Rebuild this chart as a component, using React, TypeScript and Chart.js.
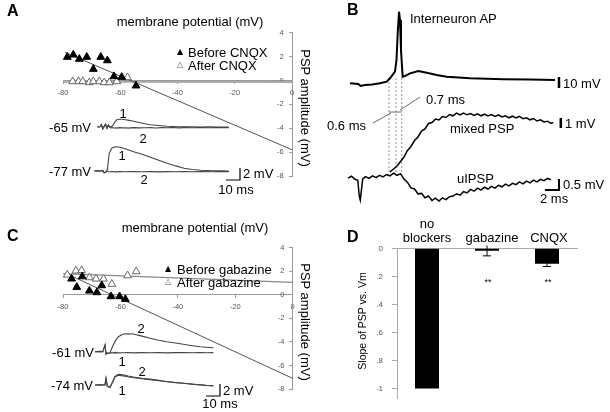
import React, { useEffect, useRef } from "react";
import { Chart, registerables } from "chart.js";

Chart.register(...registerables);

const FONT = "'Liberation Sans', Arial, Helvetica, sans-serif";
Chart.defaults.font.family = FONT;

// ---------------- Panel A data ----------------
const aVmTicks = [-80, -60, -40, -20, 0];
const aPspTicks = [4, 2, 0, -2, -4, -6, -8];
const aBeforeVm = [-78.5, -76.4, -74.3, -71.7, -69.4, -66.8, -64.5, -62.2, -59.5, -54.5];
const aBeforePsp = [1.96, 2.15, 1.79, 1.96, 0.95, 1.96, 1.67, 0.34, 0.28, -0.44];
const aAfterVm = [-76.6, -74.6, -73.1, -70.8, -69.4, -67.3, -65.6, -63.8, -61.2, -57.5];
const aAfterPsp = [-0.08, -0.08, -0.08, -0.17, -0.08, -0.08, -0.17, -0.17, -0.08, 0.25];
const aFitBeforeVm = [-79.3, 0];
const aFitBefore = [2.35, -5.8];
const aFitAfterVm = [-80, 0];
const aFitAfter = [-0.1, -0.13];

// traces (time in ms, deflection in mV from baseline)
const aT65 = [-2, 0, 1, 2, 3, 4, 5, 6, 7, 8, 9, 10, 11, 12, 14, 16, 18, 20, 24, 28, 32, 36, 40, 44, 48, 52, 56, 60, 66, 72, 78, 84, 92];
const a65Trace1 = [0, 0.05, 0.4, -0.3, 0.1, 0.45, -0.2, 0.35, 0.0, 0.1, 0.2, 0.6, 0.95, 1.2, 1.3, 1.28, 1.22, 1.15, 0.95, 0.75, 0.55, 0.38, 0.28, 0.2, 0.12, 0.08, 0.05, 0.05, 0.03, 0.0, 0.02, 0.0, 0.0];
const a65Trace2 = [0, 0.05, 0.4, -0.3, 0.1, 0.45, -0.2, 0.3, -0.1, -0.15, -0.1, -0.2, -0.12, -0.18, -0.1, -0.15, -0.12, -0.18, -0.1, -0.15, -0.12, -0.1, -0.16, -0.1, -0.12, -0.08, -0.14, -0.1, -0.12, -0.08, -0.12, -0.1, -0.1];
const aT77 = [-4, -2, 0, 2, 3, 4, 5, 5.5, 6.6, 8.4, 10.7, 14.3, 18, 24, 30, 36, 42, 48, 54, 60, 66, 72, 80, 86, 92];
const a77Trace1 = [0, 0.05, 0, 0.05, -0.3, -0.2, 0.2, 0.7, 2.95, 3.8, 4.05, 3.95, 3.7, 3.2, 2.8, 2.3, 1.8, 1.3, 0.85, 0.45, 0.25, 0.12, 0.05, 0.02, 0];
const a77Trace2 = [0, 0.05, 0, 0.05, -0.3, -0.2, -0.05, -0.1, -0.12, -0.08, -0.14, -0.1, -0.12, -0.08, -0.12, -0.1, -0.14, -0.1, -0.12, -0.08, -0.12, -0.1, -0.12, -0.08, -0.1];
const aBarT = [90, 100, 100];
const aBarV = [-1.5, -1.5, 0.5];

// ---------------- Panel C data ----------------
const cBeforeVm = [-77, -75.2, -73.3, -70.8, -68.2, -66.5, -63.3, -60.3, -58.3];
const cBeforePsp = [1.36, 0.65, 1.55, 0.34, 0.2, 0.79, -0.14, -0.14, -0.37];
const cAfterVm = [-78.5, -75.5, -73.5, -70.8, -68.5, -65.9, -63, -57.5, -54.5];
const cAfterPsp = [1.7, 2.04, 2.07, 1.47, 1.36, 1.36, 0.91, 1.64, 1.98];
const cFitBeforeVm = [-79.3, 0];
const cFitBefore = [1.85, -7.1];
const cFitAfterVm = [-80, 0];
const cFitAfter = [1.8, 1.05];

const cT61 = [-3.6, 0, 2, 3.6, 4.3, 5, 6, 7.1, 9, 11, 13.1, 16.6, 20, 23.8, 30, 35.7, 42, 47.6, 54, 59.5, 66, 71.4, 76, 81];
const c61Trace2 = [0, 0.05, 0, 1.1, -0.4, -0.2, -0.3, -0.2, 0.9, 1.8, 2.5, 2.95, 3.0, 2.95, 2.6, 2.23, 1.9, 1.67, 1.45, 1.23, 1.0, 0.83, 0.75, 0.67];
const c61Trace1 = [0, 0.05, 0, 1.1, -0.4, -0.2, -0.25, -0.18, -0.2, -0.15, -0.2, -0.17, -0.14, -0.2, -0.15, -0.18, -0.14, -0.2, -0.16, -0.15, -0.18, -0.14, -0.17, -0.15];
const cT74 = [-3.6, 0, 3.5, 4.3, 5.2, 7.1, 9.1, 10.7, 13.1, 16.6, 20, 23.8, 30, 35.7, 42, 47.6, 54, 59.5, 66, 71.4, 76, 81];
const c74Trace2 = [0, 0.02, 0, 1.1, -0.17, -0.4, 0.6, 1.45, 1.8, 1.7, 1.5, 1.32, 1.12, 0.98, 0.78, 0.58, 0.42, 0.3, 0.15, 0.05, -0.05, -0.12];
const c74Trace1 = [0, 0.02, 0, 1.1, -0.17, -0.4, 0.5, 1.35, 1.62, 1.52, 1.38, 1.2, 1.05, 0.9, 0.72, 0.55, 0.4, 0.28, 0.12, 0.02, -0.08, -0.15];
const cBarT = [75.7, 85.7, 85.7];
const cBarV = [-1.83, -1.83, 0.17];

// ---------------- Panel B data ----------------
const bApT = [0.3, 1.47, 1.81, 2.43, 3.43, 4.57, 5.53, 6.0, 6.71, 6.93, 7.1, 7.29, 7.43, 7.57, 7.81, 8.14, 8.86, 10.04, 11.24, 12.67, 14.1, 17.43, 22.19, 26, 29.57];
const bApV = [0.64, 0, -1.8, -0.9, -0.45, 0.64, 2.1, 5.2, 11.2, 21.8, 46.1, 65.7, 58.2, 30.9, 6.6, 7.3, 9.7, 11.8, 10.3, 8.2, 6.6, 5.2, 4.3, 4.0, 3.6];
const bMixT = [6.0, 6.5, 7.0, 7.5, 8.0, 8.5, 9.0, 9.5, 10.0, 10.5, 11.0, 11.5, 12.0, 12.5, 13.0, 13.5, 14.0, 14.5, 15.0, 15.5, 16.0, 16.5, 17.0, 17.5, 18.0, 18.5, 19.0, 19.5, 20.0, 20.5, 21.0, 21.5, 22.0, 22.5, 23.0, 23.5, 24.0, 24.5, 25.0, 25.5, 26.0, 26.5, 27.0, 27.5, 28.0, 28.5, 29.0, 29.3];
const bMixV = [0, 0.3, 0.6, 1.05, 1.5, 2.15, 2.55, 3.15, 3.5, 4.1, 4.3, 4.85, 4.95, 5.3, 5.2, 5.55, 5.45, 5.75, 5.62, 5.88, 5.7, 5.9, 5.72, 5.85, 5.66, 5.82, 5.62, 5.78, 5.6, 5.74, 5.55, 5.72, 5.5, 5.62, 5.42, 5.58, 5.4, 5.56, 5.32, 5.42, 5.22, 5.35, 5.1, 5.22, 5.0, 5.08, 4.85, 4.95];
const bIpT = [0, 0.5, 1.0, 1.4, 1.6, 1.75, 1.9, 2.1, 2.5, 3.0, 3.5, 4.0, 4.5, 5.0, 5.5, 6.0, 6.5, 7.0, 7.5, 8.0, 8.5, 9.0, 9.5, 10.0, 10.5, 11.0, 11.5, 12.0, 12.5, 13.0, 13.5, 14.0, 14.5, 15.0, 15.5, 16.0, 16.5, 17.0, 17.5, 18.0, 18.5, 19.0, 19.5, 20.0, 20.5, 21.0, 21.5, 22.0, 22.5, 23.0, 23.5, 24.0, 24.5, 25.0, 25.5, 26.0, 26.5, 27.0, 27.5, 28.0, 28.5, 29.0];
const bIpV = [-0.01, 0.08, -0.06, -0.1, -0.8, -1.0, -0.6, -0.05, 0.06, -0.02, 0.1, 0.02, 0.12, 0.05, 0.16, 0.1, 0.22, 0.12, 0.2, -0.05, -0.2, -0.45, -0.5, -0.72, -0.7, -0.9, -0.82, -1.02, -0.92, -1.05, -0.9, -0.98, -0.85, -0.82, -0.72, -0.78, -0.62, -0.68, -0.52, -0.6, -0.46, -0.55, -0.42, -0.5, -0.38, -0.46, -0.33, -0.4, -0.28, -0.36, -0.24, -0.3, -0.18, -0.27, -0.14, -0.22, -0.1, -0.18, -0.06, -0.12, -0.02, -0.08];
const bDashT = [5.86, 6.86, 7.67];
const bDashV = [9.4, 0];
const bMeasureT = [5.86, 7.67];
const bMeasureV = [6.0, 6.0];
const b07LeaderT = [10.3, 7.43];
const b07LeaderV = [7.5, 6.2];
const b06LeaderT = [3.57, 6.14];
const b06LeaderV = [4.9, 5.9];
const bApBarT = [30.14, 30.14];
const bApBarV = [6.36, -3.64];
const bMixBarT = [30.4, 30.4];
const bMixBarV = [5.4, 4.4];
const bIpBarT = [28.14, 30.14, 30.14];
const bIpBarV = [-0.545, -0.545, -0.045];

// ---------------- Panel D data ----------------
const dCategories = [["no", "blockers"], "gabazine", "CNQX"];
const dValues = [-1, -0.017, -0.11];
const dErr = [0, 0.037, 0.02];
const dTicks = [0, -0.2, -0.4, -0.6, -0.8, -1];
const dTickLabels = ["0", "-0.2", "-0.4", "-0.6", "-0.8", "-1"];

// ---------------- helpers ----------------
const pts = (xs: number[], ys: number[]) => xs.map((x, i) => ({ x, y: ys[i] }));
const hRange = (a: number, b: number, zero: number, ppu: number) => ({ min: (a - zero) / ppu, max: (b - zero) / ppu });
const vRange = (top: number, bottom: number, zero: number, ppu: number) => ({ min: (zero - bottom) / ppu, max: (zero - top) / ppu });
const hidden = (axis: string, r: { min: number; max: number }) => ({ type: "linear", axis, display: false, min: r.min, max: r.max });

const lineDs = (xs: number[], ys: number[], xAxisID: string, yAxisID: string, color = "#333", width = 1, dash: number[] = []) => ({
  data: pts(xs, ys),
  xAxisID,
  yAxisID,
  showLine: true,
  pointRadius: 0,
  borderColor: color,
  borderWidth: width,
  borderDash: dash,
  fill: false,
  tension: 0,
  clip: false,
});
const markerDs = (xs: number[], ys: number[], fill: string, stroke: string) => ({
  data: pts(xs, ys),
  xAxisID: "x",
  yAxisID: "y",
  showLine: false,
  pointStyle: "triangle",
  pointRadius: 4.5,
  pointBackgroundColor: fill,
  pointBorderColor: stroke,
  pointBorderWidth: 1,
  backgroundColor: fill,
  borderColor: stroke,
  clip: false,
});

const base = (padding: any) => ({
  responsive: false,
  maintainAspectRatio: false,
  animation: false,
  devicePixelRatio: 1,
  events: [],
  layout: { padding },
  plugins: { legend: { display: false }, tooltip: { enabled: false } },
});

const scatterAxes = (yMin: number, yMax: number) => {
  const tick = { font: { size: 7.5 }, color: "#555", maxRotation: 0, autoSkip: false };
  return {
    x: {
      type: "linear",
      position: { y: 0 },
      min: -80,
      max: 0,
      afterBuildTicks: (s: any) => { s.ticks = aVmTicks.map((v) => ({ value: v })); },
      ticks: { ...tick, padding: 5 },
      grid: { display: true, drawOnChartArea: false, tickLength: 3, color: "#999" },
      border: { color: "#999" },
    },
    y: {
      type: "linear",
      position: { x: 0 },
      min: yMin,
      max: yMax,
      afterBuildTicks: (s: any) => { s.ticks = aPspTicks.map((v) => ({ value: v })); },
      // trailing spaces keep the labels off the axis line (labels sit left of the axis)
      ticks: { ...tick, padding: 4, callback: (v: any) => `${v}    ` },
      grid: { display: true, drawOnChartArea: false, tickLength: 3, color: "#999" },
      border: { color: "#999" },
    },
  };
};

function makeA() {
  const W = 310, H = 205;
  const l = 63, r = 292, t = 32.7, b = 176;
  return {
    type: "scatter",
    data: {
      datasets: [
        markerDs(aBeforeVm, aBeforePsp, "#000", "#000"),
        markerDs(aAfterVm, aAfterPsp, "#fff", "#666"),
        lineDs(aFitBeforeVm, aFitBefore, "x", "y", "#555", 1),
        lineDs(aFitAfterVm, aFitAfter, "x", "y", "#aaa", 2),
        lineDs(aT65, a65Trace1, "tA", "yA65", "#444", 1.1),
        lineDs(aT65, a65Trace2, "tA", "yA65", "#444", 1.1),
        lineDs(aT77, a77Trace1, "tA", "yA77", "#444", 1.1),
        lineDs(aT77, a77Trace2, "tA", "yA77", "#444", 1.1),
        lineDs(aBarT, aBarV, "tA", "yA77", "#000", 1.2),
      ],
    },
    options: {
      ...base({ left: l, top: t, right: W - r, bottom: H - b }),
      scales: {
        ...scatterAxes(-8, 4),
        tA: hidden("x", hRange(l, r, 100, 1.4)),
        yA65: hidden("y", vRange(t, b, 127, 6)),
        yA77: hidden("y", vRange(t, b, 171, 6)),
      },
    },
  };
}

function makeC() {
  const W = 310, H = 202;
  const l = 63, r = 292.7, t = 37.7, b = 179;
  return {
    type: "scatter",
    data: {
      datasets: [
        markerDs(cBeforeVm, cBeforePsp, "#000", "#000"),
        markerDs(cAfterVm, cAfterPsp, "#fff", "#666"),
        lineDs(cFitBeforeVm, cFitBefore, "x", "y", "#555", 1),
        lineDs(cFitAfterVm, cFitAfter, "x", "y", "#888", 1.2),
        lineDs(cT61, c61Trace1, "tC", "yC61", "#444", 1.1),
        lineDs(cT61, c61Trace2, "tC", "yC61", "#444", 1.1),
        lineDs(cT74, c74Trace1, "tC", "yC74", "#444", 1.1),
        lineDs(cT74, c74Trace2, "tC", "yC74", "#444", 1.1),
        lineDs(cBarT, cBarV, "tC", "yC74", "#000", 1.2),
      ],
    },
    options: {
      ...base({ left: l, top: t, right: W - r, bottom: H - b }),
      scales: {
        ...scatterAxes(-8, 4),
        tC: hidden("x", hRange(l, r, 100, 1.4)),
        yC61: hidden("y", vRange(t, b, 141.7, 6)),
        yC74: hidden("y", vRange(t, b, 175, 6)),
      },
    },
  };
}

function makeB() {
  const W = 290, H = 210;
  const dashed = bDashT.map((tt) => lineDs([tt, tt], bDashV, "x", "yMix", "#777", 0.8, [2, 2]));
  return {
    type: "scatter",
    data: {
      datasets: [
        lineDs(bApT, bApV, "x", "y", "#000", 2),
        lineDs(bMixT, bMixV, "x", "yMix", "#000", 1.5),
        lineDs(bIpT, bIpV, "x", "yIp", "#000", 1.5),
        ...dashed,
        lineDs(bMeasureT, bMeasureV, "x", "yMix", "#444", 0.8),
        lineDs(b07LeaderT, b07LeaderV, "x", "yMix", "#444", 0.8),
        lineDs(b06LeaderT, b06LeaderV, "x", "yMix", "#444", 0.8),
        lineDs(bApBarT, bApBarV, "x", "y", "#000", 2.5),
        lineDs(bMixBarT, bMixBarV, "x", "yMix", "#000", 2.5),
        lineDs(bIpBarT, bIpBarV, "x", "yIp", "#000", 2),
      ],
    },
    options: {
      ...base(0),
      scales: {
        x: hidden("x", hRange(0, W, 28, 7)),
        y: hidden("y", vRange(0, H, 84, 1.1)),
        yMix: hidden("y", vRange(0, H, 172, 10)),
        yIp: hidden("y", vRange(0, H, 178, 22)),
      },
    },
  };
}

const errPlugin = {
  id: "errbars",
  afterDatasetsDraw(chart: any) {
    const meta = chart.getDatasetMeta(0);
    const ys = chart.scales.y;
    const ctx = chart.ctx;
    ctx.save();
    ctx.strokeStyle = "#000";
    ctx.lineWidth = 1;
    dValues.forEach((v, i) => {
      if (!dErr[i]) return;
      const x = meta.data[i].x;
      const y1 = ys.getPixelForValue(v + dErr[i]);
      const y2 = ys.getPixelForValue(v - dErr[i]);
      ctx.beginPath();
      ctx.moveTo(x, y1);
      ctx.lineTo(x, y2);
      ctx.moveTo(x - 4, y2);
      ctx.lineTo(x + 4, y2);
      ctx.stroke();
    });
    ctx.restore();
  },
};

function makeD() {
  const W = 290, H = 202;
  const l = 77, r = 257, t = 38.3, b = 192.4;
  return {
    type: "bar",
    data: {
      labels: dCategories,
      datasets: [
        { data: dValues, backgroundColor: "#000", borderWidth: 0, barPercentage: 0.4, categoryPercentage: 1 },
      ],
    },
    options: {
      ...base({ left: l - 20, top: t, right: W - r, bottom: H - b }),
      scales: {
        x: {
          position: "top",
          ticks: { display: false },
          grid: { display: false },
          border: { color: "#aaa" },
          afterFit: (s: any) => { s.height = 0; },
        },
        y: {
          min: -1.07,
          max: 0,
          afterBuildTicks: (s: any) => { s.ticks = dTicks.map((v) => ({ value: v })); },
          ticks: { font: { size: 8 }, color: "#555", padding: 9, callback: (_v: any, i: number) => dTickLabels[i] },
          grid: { drawOnChartArea: false, tickLength: 5, color: "#aaa" },
          border: { color: "#aaa" },
          afterFit: (s: any) => { s.width = 20; },
        },
      },
    },
    plugins: [errPlugin],
  };
}

function ChartBox({ x, y, w, h, make }: { x: number; y: number; w: number; h: number; make: () => any }) {
  const ref = useRef<HTMLCanvasElement | null>(null);
  useEffect(() => {
    const chart = new Chart(ref.current as HTMLCanvasElement, make());
    return () => chart.destroy();
  }, []);
  return <canvas ref={ref} width={w} height={h} style={{ position: "absolute", left: x, top: y, width: w, height: h }} />;
}

type Lbl = { t: string; x: number; y: number; s?: number; a?: "l" | "c" | "r"; b?: boolean; r?: number; f?: string; c?: string };

const textLabels: Lbl[] = [
  // A
  { t: "A", x: 7, y: 11, s: 16, b: true },
  { t: "membrane potential (mV)", x: 190, y: 21, a: "c" },
  { t: "▲", x: 180, y: 52, s: 8, a: "c", f: "'DejaVu Sans'" },
  { t: "Before CNQX", x: 188, y: 52 },
  { t: "△", x: 180, y: 65, s: 8, a: "c", f: "'DejaVu Sans'", c: "#555" },
  { t: "After CNQX", x: 188, y: 65 },
  { t: "PSP amplitude (mV)", x: 305, y: 108, a: "c", r: 90 },
  { t: "-65 mV", x: 91, y: 127, a: "r" },
  { t: "1", x: 123, y: 113, a: "c" },
  { t: "2", x: 143, y: 138, a: "c" },
  { t: "-77 mV", x: 91, y: 171, a: "r" },
  { t: "1", x: 122, y: 155, a: "c" },
  { t: "2", x: 144, y: 179, a: "c" },
  { t: "2 mV", x: 243, y: 173 },
  { t: "10 ms", x: 236, y: 189, a: "c" },
  // B
  { t: "B", x: 347, y: 10, s: 16, b: true },
  { t: "Interneuron AP", x: 410, y: 18 },
  { t: "10 mV", x: 563, y: 83 },
  { t: "0.7 ms", x: 426, y: 99 },
  { t: "0.6 ms", x: 327, y: 125 },
  { t: "mixed PSP", x: 450, y: 128 },
  { t: "1 mV", x: 565, y: 123 },
  { t: "uIPSP", x: 457, y: 178 },
  { t: "0.5 mV", x: 563, y: 184 },
  { t: "2 ms", x: 540, y: 198 },
  // C
  { t: "C", x: 7, y: 236, s: 16, b: true },
  { t: "membrane potential (mV)", x: 195, y: 227, a: "c" },
  { t: "▲", x: 168, y: 269, s: 8, a: "c", f: "'DejaVu Sans'" },
  { t: "Before gabazine", x: 177, y: 269 },
  { t: "△", x: 168, y: 282, s: 8, a: "c", f: "'DejaVu Sans'", c: "#555" },
  { t: "After gabazine", x: 177, y: 282 },
  { t: "PSP amplitude (mV)", x: 305, y: 322, a: "c", r: 90 },
  { t: "2", x: 141, y: 328, a: "c" },
  { t: "-61 mV", x: 94, y: 352, a: "r" },
  { t: "1", x: 122, y: 361, a: "c" },
  { t: "2", x: 142, y: 371, a: "c" },
  { t: "-74 mV", x: 93, y: 385, a: "r" },
  { t: "1", x: 122, y: 390, a: "c" },
  { t: "2 mV", x: 223, y: 390 },
  { t: "10 ms", x: 220, y: 403, a: "c" },
  // D
  { t: "D", x: 347, y: 237, s: 16, b: true },
  { t: "no", x: 427, y: 223, a: "c" },
  { t: "blockers", x: 427, y: 237, a: "c" },
  { t: "gabazine", x: 492, y: 237, a: "c" },
  { t: "CNQX", x: 549, y: 237, a: "c" },
  { t: "**", x: 488, y: 282, s: 9, a: "c" },
  { t: "**", x: 548, y: 282, s: 9, a: "c" },
  { t: "Slope of PSP vs. Vm", x: 362, y: 321, s: 10.5, a: "c", r: -90 },
];

function Label({ t, x, y, s = 13, a = "l", b = false, r = 0, f, c = "#000" }: Lbl) {
  const tx = a === "l" ? "0" : a === "c" ? "-50%" : "-100%";
  return (
    <div
      style={{
        position: "absolute",
        left: x,
        top: y,
        transform: `translate(${tx}, -50%)${r ? ` rotate(${r}deg)` : ""}`,
        fontFamily: f ? `${f}, ${FONT}` : FONT,
        fontSize: s,
        fontWeight: b ? "bold" : "normal",
        lineHeight: 1,
        whiteSpace: "nowrap",
        color: c,
      }}
    >
      {t}
    </div>
  );
}

export default function App() {
  return (
    <div style={{ position: "fixed", left: 0, top: 0, width: 610, height: 412, background: "#fff", overflow: "hidden" }}>
      <ChartBox x={0} y={0} w={310} h={205} make={makeA} />
      <ChartBox x={320} y={0} w={290} h={210} make={makeB} />
      <ChartBox x={0} y={210} w={310} h={202} make={makeC} />
      <ChartBox x={320} y={210} w={290} h={202} make={makeD} />
      {textLabels.map((l, i) => (
        <Label key={i} {...l} />
      ))}
    </div>
  );
}
